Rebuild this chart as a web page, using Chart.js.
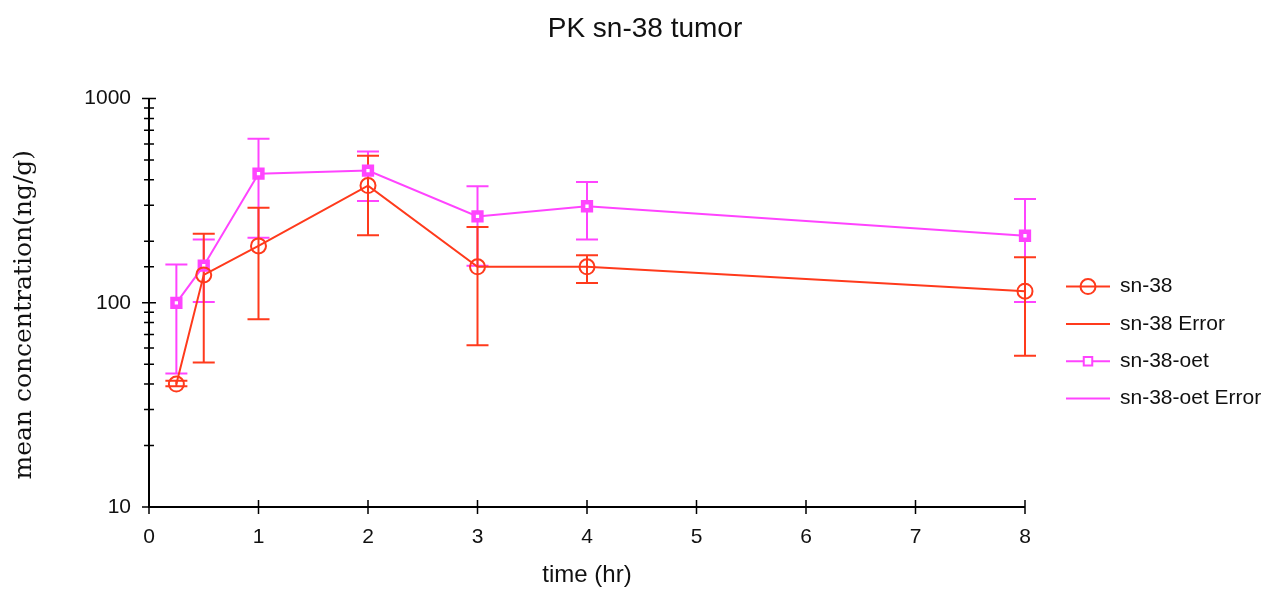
<!DOCTYPE html>
<html>
<head>
<meta charset="utf-8">
<title>PK sn-38 tumor</title>
<script src="https://cdn.jsdelivr.net/npm/chart.js@4/dist/chart.umd.min.js"></script>
<style>
  html, body { margin: 0; padding: 0; background: #fff; overflow: hidden; }
  canvas { display: block; }
</style>
</head>
<body>
<canvas id="pkChart" width="1264" height="590"></canvas>
<script>
// ================== DATA ==================
const timePoints = [0.25, 0.5, 1, 2, 3, 4, 8];          // hr
const sn38Mean   = [40, 137, 190, 375, 150, 150, 114];    // ng/g
const sn38Low    = [39, 51, 83, 214, 62, 125, 55];
const sn38High   = [41.5, 218, 292, 525, 235, 171, 167];
const oetMean    = [100, 152, 429, 444, 265, 297, 213];
const oetLow     = [45, 101, 208, 315, 152, 204, 101];
const oetHigh    = [154, 204, 635, 550, 372, 391, 322];
const yMajorTicks = [10, 100, 1000];
const legendLabels = ['sn-38', 'sn-38 Error', 'sn-38-oet', 'sn-38-oet Error'];

const RED = '#ff3a1c';
const PINK = '#ff44ff';
const SANS = '"Liberation Sans", Arial, sans-serif';

const toPoints = vals => timePoints.map((t, i) => ({ x: t, y: vals[i] }));

// ================== PLUGINS ==================
// error bars, drawn under the series lines
const errorBarPlugin = {
  id: 'errorBars',
  beforeDatasetsDraw(chart) {
    const { ctx, scales: { x, y } } = chart;
    const sets = [[oetLow, oetHigh, PINK], [sn38Low, sn38High, RED]];
    ctx.save();
    ctx.lineWidth = 2;
    sets.forEach(([lo, hi, color]) => {
      ctx.strokeStyle = color;
      ctx.beginPath();
      timePoints.forEach((t, i) => {
        const px = x.getPixelForValue(t);
        const pLo = y.getPixelForValue(lo[i]);
        const pHi = y.getPixelForValue(hi[i]);
        ctx.moveTo(px, pLo); ctx.lineTo(px, pHi);
        ctx.moveTo(px - 11, pLo); ctx.lineTo(px + 11, pLo);
        ctx.moveTo(px - 11, pHi); ctx.lineTo(px + 11, pHi);
      });
      ctx.stroke();
    });
    ctx.restore();
  }
};

// left + bottom axis lines with ticks crossing the line
const axisPlugin = {
  id: 'crossAxes',
  afterDraw(chart) {
    const { ctx, chartArea: a, scales: { x, y } } = chart;
    ctx.save();
    ctx.strokeStyle = '#000';
    ctx.lineWidth = 2;
    ctx.beginPath();
    ctx.moveTo(a.left, a.top);
    ctx.lineTo(a.left, a.bottom);
    ctx.lineTo(a.right, a.bottom);
    ctx.stroke();
    ctx.lineWidth = 1.5;
    ctx.beginPath();
    y.ticks.forEach(t => {
      const py = y.getPixelForValue(t.value);
      const len = yMajorTicks.includes(t.value) ? 7 : 5;
      ctx.moveTo(a.left - len, py); ctx.lineTo(a.left + len, py);
    });
    x.ticks.forEach(t => {
      const px = x.getPixelForValue(t.value);
      ctx.moveTo(px, a.bottom - 7); ctx.lineTo(px, a.bottom + 7);
    });
    ctx.stroke();
    ctx.restore();
  }
};

// legend on the right: line with marker, then label
const legendPlugin = {
  id: 'sideLegend',
  afterDraw(chart) {
    const { ctx, chartArea: a } = chart;
    const styles = [
      { color: RED, marker: { pointStyle: 'circle', radius: 7.5, borderWidth: 2 }, fill: 'rgba(0,0,0,0)' },
      { color: RED },
      { color: PINK, marker: { pointStyle: 'rect', radius: 6, borderWidth: 4.5 }, fill: '#fff' },
      { color: PINK }
    ];
    const x0 = a.right + 41;
    ctx.save();
    ctx.font = '21px ' + SANS;
    ctx.textBaseline = 'middle';
    legendLabels.forEach((label, i) => {
      const s = styles[i];
      const ly = a.top + 188 + i * 37.3;
      ctx.strokeStyle = s.color;
      ctx.lineWidth = 2;
      ctx.beginPath();
      ctx.moveTo(x0, ly); ctx.lineTo(x0 + 44, ly);
      ctx.stroke();
      if (s.marker) {
        ctx.fillStyle = s.fill;
        Chart.helpers.drawPoint(ctx, { ...s.marker, rotation: 0 }, x0 + 22, ly);
      }
      ctx.fillStyle = '#111';
      ctx.fillText(label, x0 + 54, ly);
    });
    ctx.restore();
  }
};

// ================== CHART ==================
new Chart(document.getElementById('pkChart'), {
  type: 'line',
  plugins: [errorBarPlugin, axisPlugin, legendPlugin],
  data: {
    datasets: [
      {
        label: 'sn-38', data: toPoints(sn38Mean), yAxisID: 'y', clip: false,
        borderColor: RED, borderWidth: 2, tension: 0,
        pointStyle: 'circle', pointRadius: 7.5, pointBorderWidth: 2,
        pointBorderColor: RED, pointBackgroundColor: 'rgba(0,0,0,0)'
      },
      {
        label: 'sn-38-oet', data: toPoints(oetMean), yAxisID: 'y', clip: false,
        borderColor: PINK, borderWidth: 2, tension: 0,
        pointStyle: 'rect', pointRadius: 5.5, pointBorderWidth: 4.5,
        pointBorderColor: PINK, pointBackgroundColor: '#fff'
      }
    ]
  },
  options: {
    responsive: false,
    animation: false,
    devicePixelRatio: 1,
    layout: { padding: { left: 26, right: 0, top: 0, bottom: 0 } },
    plugins: {
      legend: { display: false },
      tooltip: { enabled: false },
      title: {
        display: true, text: 'PK sn-38 tumor', color: '#111',
        font: { family: SANS, size: 28, weight: 'normal' },
        padding: { top: 12, bottom: 53 }
      }
    },
    scales: {
      x: {
        type: 'linear', min: 0, max: 8,
        grid: { display: false, drawTicks: false },
        border: { display: false },
        ticks: { stepSize: 1, color: '#111', padding: 18, font: { family: SANS, size: 21 } },
        title: { display: true, text: 'time (hr)', color: '#111', font: { family: SANS, size: 24 }, padding: 0 },
        afterFit: s => { s.height = 83; }
      },
      y: {
        type: 'logarithmic', min: 10, max: 1000,
        grid: { display: false, drawTicks: false },
        border: { display: false },
        ticks: {
          autoSkip: false, color: '#111', padding: 18, font: { family: SANS, size: 21 },
          callback: v => yMajorTicks.includes(v) ? String(v) : ''
        },
        title: {
          display: true, text: 'mean concentration(ng/g)\u00a0\u00a0\u00a0', color: '#111',
          font: { family: '"DejaVu Serif", serif', size: 25 }, padding: { top: -17, bottom: 0 }
        },
        afterFit: s => { s.width = 123; }
      },
      yPad: {
        type: 'linear', position: 'right', display: true,
        grid: { display: false, drawTicks: false },
        border: { display: false },
        ticks: { display: false },
        afterFit: s => { s.width = 239; }
      }
    }
  }
});
</script>
</body>
</html>
